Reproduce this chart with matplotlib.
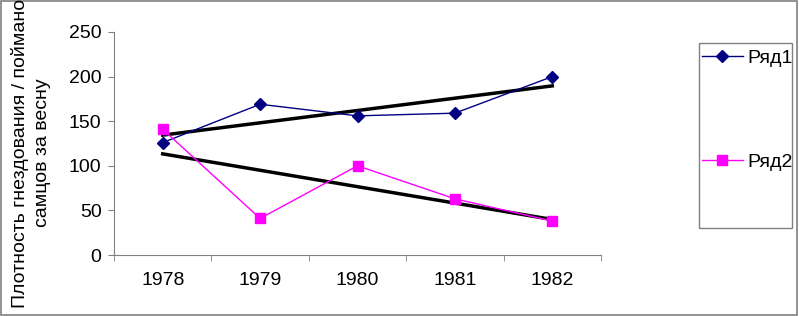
import numpy as np
import matplotlib.pyplot as plt
from matplotlib.patches import Rectangle

plt.rcParams['font.family'] = ['Liberation Sans', 'DejaVu Sans']

years = ['1978', '1979', '1980', '1981', '1982']
row1 = [126, 169, 156, 159, 200]
row2 = [141, 41, 100, 63, 38]
yticks = [0, 50, 100, 150, 200, 250]

x = np.arange(1, len(years) + 1)

fig = plt.figure(figsize=(7.99, 3.16), dpi=100)
ax = fig.add_axes([114/799, 1 - 255/316, (601 - 114)/799, (255 - 32)/316])

l1, = ax.plot(x, row1, color='#000080', marker='D', markersize=6, lw=1, label='Ряд1')
l2, = ax.plot(x, row2, color='#FF00FF', marker='s', markersize=7, lw=1, label='Ряд2')

# linear trend lines
for y in [row1, row2]:
    k, b = np.polyfit(x, y, 1)
    ax.plot([x[0], x[-1]], [k*x[0] + b, k*x[-1] + b], color='black', lw=2.5, zorder=1)

ax.set_xlim(0.5, 5.5)
ax.set_ylim(0, 250)
ax.set_yticks(yticks)
ax.set_xticks(x)
ax.set_xticklabels(years)
ax.set_xticks(np.arange(0.5, 6, 1), minor=True)
ax.tick_params(axis='x', which='major', length=0, pad=12, labelsize=14)
ax.tick_params(axis='x', which='minor', length=4, direction='out', color='#808080')
ax.tick_params(axis='y', length=4, direction='out', color='#808080', labelsize=14, pad=5)

for s in ['top', 'right']:
    ax.spines[s].set_visible(False)
for s in ['left', 'bottom']:
    ax.spines[s].set_color('#808080')

fig.text(31/799, 1 - 153/316, 'Плотность гнездования / поймано\nсамцов за весну',
         rotation=90, ha='center', va='center', fontsize=14, linespacing=1.4)

leg = fig.legend(handles=[l1, l2], loc='upper left', bbox_to_anchor=(702/799, 1 - 49/316),
                 frameon=False, fontsize=14, labelspacing=4.45,
                 handlelength=2.1, borderpad=0, borderaxespad=0, handletextpad=0.25)

fig.patches.append(Rectangle((699/799, 1 - 228/316), 93/799, 185/316, transform=fig.transFigure,
                             fill=False, edgecolor='#808080', lw=1))
fig.patches.append(Rectangle((0.001, 0.002), 0.997, 0.995, transform=fig.transFigure,
                             fill=False, edgecolor='#808080', lw=1.2))

fig.savefig('out.png', dpi=100)
